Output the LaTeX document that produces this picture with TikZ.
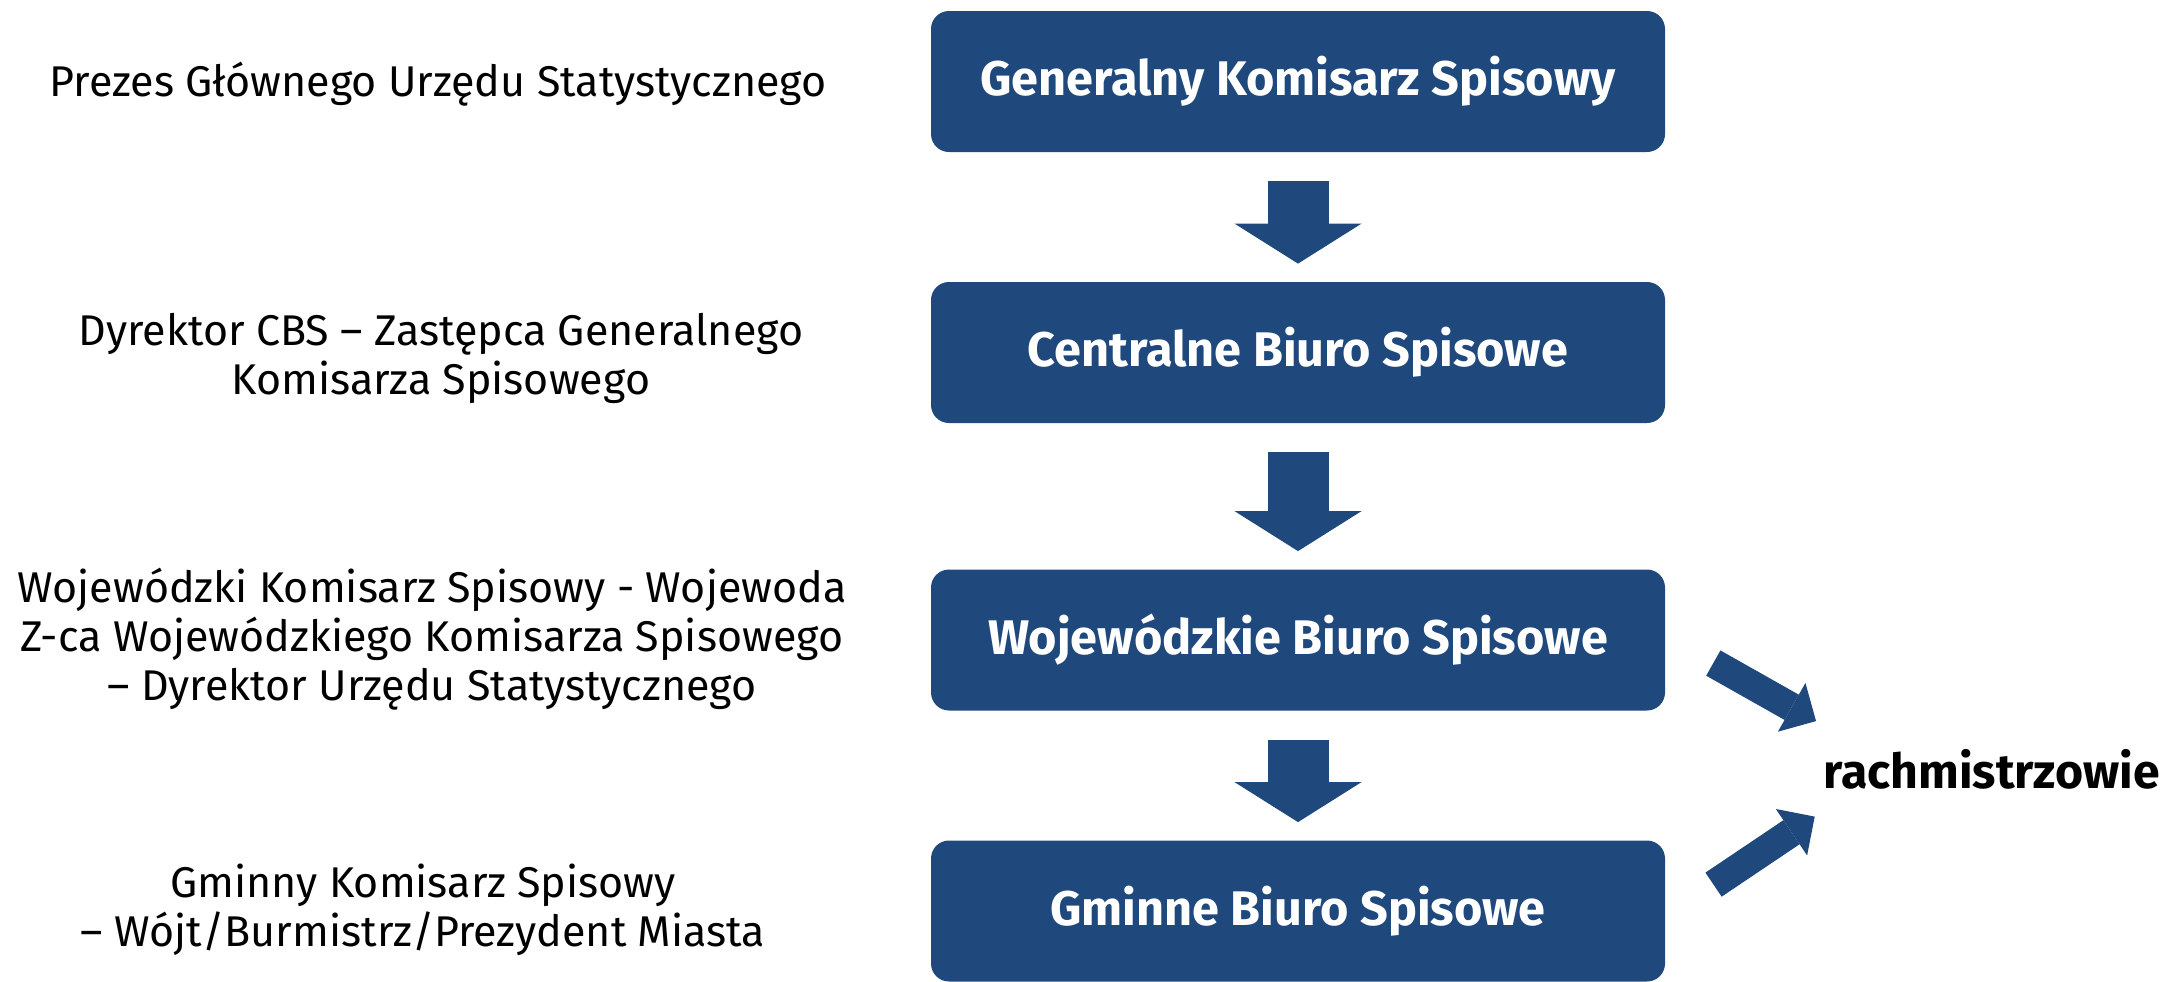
\documentclass[tikz,border=0pt]{standalone}
\usepackage{fontspec}
\setmainfont{Fira Sans}
\usetikzlibrary{arrows.meta}
\definecolor{gusblue}{HTML}{1F497D}
\tikzset{
	biuro/.style={fill=gusblue, rounded corners=9pt, minimum width=367pt, minimum height=70.5pt, text=white, font=\fontsize{24.3}{29}\selectfont\bfseries},
	opis/.style={align=center, font=\fontsize{21.5}{24.5}\selectfont},
	strzalka/.style={gusblue, line width=30.5pt, -{Triangle[width=63.5pt, length=20pt, line width=0pt]}},
	skos/.style={gusblue, line width=14.5pt, -{Triangle[width=28pt, length=14pt, line width=0pt]}}
}
\begin{document}
\begin{tikzpicture}[x=0.5pt, y=-0.5pt]
			\useasboundingbox (0,0) rectangle (2166,981);
			\node[biuro] (gks) at (1298,81.5) {Generalny Komisarz Spisowy};
			\node[biuro] (cbs) at (1298,352.5) {Centralne Biuro Spisowe};
			\node[biuro] (wbs) at (1298,640) {Wojewódzkie Biuro Spisowe};
			\node[biuro] (gbs) at (1298,911) {Gminne Biuro Spisowe};
			\node[opis] (prezes) at (438,84) {Prezes Głównego Urzędu Statystycznego};
			\node[opis] (dyrektor) at (441,358) {Dyrektor CBS – Zastępca Generalnego\\Komisarza Spisowego};
			\node[opis] (wojewoda) at (432,639) {Wojewódzki Komisarz Spisowy - Wojewoda\\Z-ca Wojewódzkiego Komisarza Spisowego\\– Dyrektor Urzędu Statystycznego};
			\node[opis] (wojt) at (423,910) {Gminny Komisarz Spisowy\\– Wójt/Burmistrz/Prezydent Miasta};
			\node[anchor=west, inner sep=0pt, font=\fontsize{24.1}{29}\selectfont\bfseries] (rach) at (1823,769) {rachmistrzowie};
			\draw[strzalka, shorten <=14.5pt, shorten >=9pt] (gks) -- (cbs);
			\draw[strzalka, shorten <=14.5pt, shorten >=9pt] (cbs) -- (wbs);
			\draw[strzalka, shorten <=14.5pt, shorten >=9pt] (wbs) -- (gbs);
			\draw[skos, shorten <=27.5pt, shorten >=4pt] ([yshift=2pt]wbs.east) -- ([yshift=22pt]rach.west);
			\draw[skos, shorten <=29pt, shorten >=5pt] ([yshift=-3pt]gbs.east) -- ([yshift=-21pt]rach.west);
		\end{tikzpicture}
\end{document}
